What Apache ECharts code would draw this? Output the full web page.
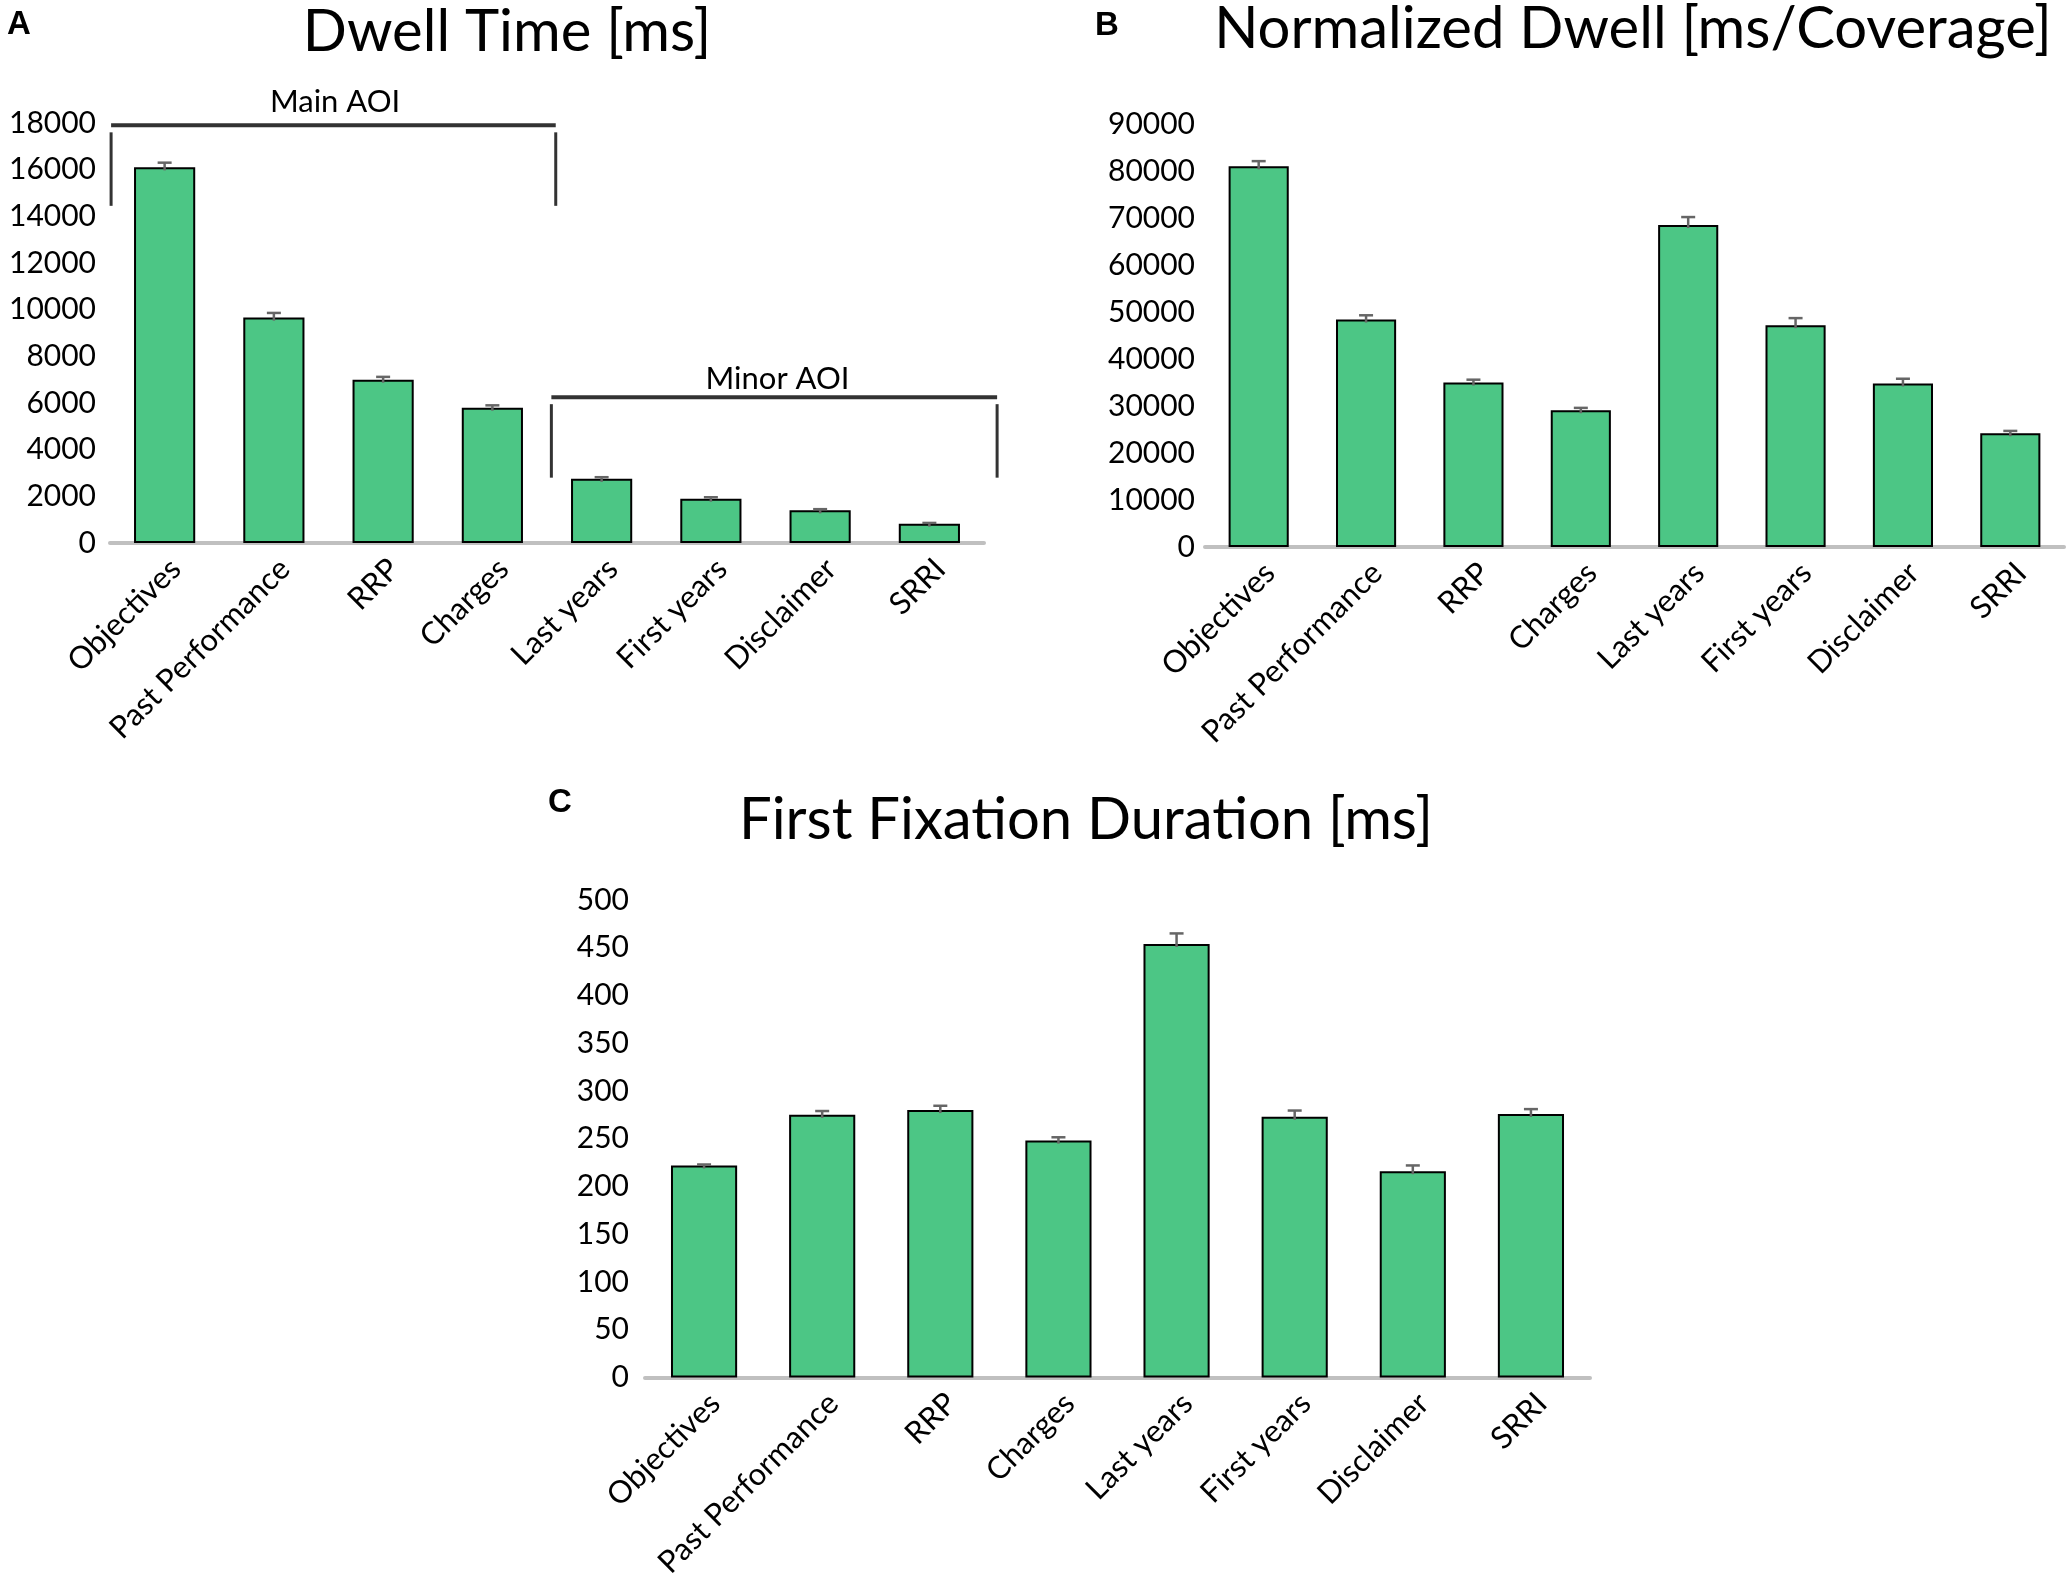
<!DOCTYPE html>
<html>
<head>
<meta charset="utf-8">
<script src="https://cdn.jsdelivr.net/npm/echarts@6/dist/echarts.min.js"></script>
<style>
html,body{margin:0;padding:0;background:#fff;}
#chart{width:2071px;height:1581px;}
</style>
</head>
<body>
<div id="chart"></div>
<script>
// ---- data ----
const categories = ['Objectives', 'Past Performance', 'RRP', 'Charges', 'Last years', 'First years', 'Disclaimer', 'SRRI'];
const dwellTime = [16100, 9660, 7000, 5800, 2750, 1900, 1400, 830];
const dwellTimeErr = [200, 200, 120, 100, 70, 60, 50, 30];
const normDwell = [81000, 48400, 35000, 29100, 68500, 47200, 34800, 24200];
const normDwellErr = [1100, 900, 600, 500, 1700, 1500, 1000, 500];
const firstFix = [222, 275, 280, 248, 454, 273, 216, 276];
const firstFixErr = [1, 4, 4.5, 3.5, 11, 6.5, 6, 5];
const titles = ['Dwell Time [ms]', 'Normalized Dwell [ms/Coverage]', 'First Fixation Duration [ms]'];
const panelLetters = ['A', 'B', 'C'];
const yMax = [18000, 90000, 500];
const yStep = [2000, 10000, 50];
// AOI brackets on panel A: [fromIndex, toIndex, lineValue, bottomValue], label [index, value]
const mainAOI = {label: 'Main AOI', from: -0.49, to: 3.58, y: 17900, yTop: 17600, yBottom: 14450, lx: 1.56, ly: 18900};
const minorAOI = {label: 'Minor AOI', from: 3.54, to: 7.62, y: 6250, yTop: 5950, yBottom: 2800, lx: 5.61, ly: 7030};

const FONT = 'Lato';
const GREEN = '#4cc685';

const chart = echarts.init(document.getElementById('chart'), null, {renderer: 'canvas'});

const grids = [
  {left: 110, top: 123, width: 874, height: 420},
  {left: 1205, top: 124, width: 859, height: 423},
  {left: 645, top: 900, width: 945, height: 480}
];
const labelMargins = [14, 10, 16];

function xAxis(i) {
  return {
    type: 'category', gridIndex: i, data: categories,
    axisLine: {show: true, lineStyle: {color: '#c0c0c0', width: 4}},
    axisTick: {show: false},
    axisLabel: {rotate: 45, margin: 10, interval: 0, verticalAlign: 'top', fontFamily: FONT, fontSize: 31, color: '#000'}
  };
}
function yAxis(i) {
  return {
    type: 'value', gridIndex: i, min: 0, max: yMax[i], interval: yStep[i],
    axisLine: {show: false}, axisTick: {show: false}, splitLine: {show: false},
    axisLabel: {margin: labelMargins[i], fontFamily: FONT, fontSize: 30, color: '#000',
      formatter: v => String(v)}
  };
}
function barSeries(i, vals) {
  return {
    type: 'bar', xAxisIndex: i, yAxisIndex: i, data: vals, barWidth: '56%',
    itemStyle: {color: GREEN, borderColor: '#000', borderWidth: 2},
    silent: true, animation: false
  };
}
function errSeries(i, vals, errs) {
  return {
    type: 'custom', xAxisIndex: i, yAxisIndex: i,
    data: vals.map((v, k) => [k, v, errs[k]]),
    encode: {x: 0, y: 1},
    z: 5, animation: false, silent: true,
    renderItem: function (params, api) {
      const x = api.value(0), v = api.value(1), e = api.value(2);
      const top = api.coord([x, v + e]);
      const base = api.coord([x, v]);
      const hw = 7;
      const st = {stroke: '#666', lineWidth: 2.5};
      return {type: 'group', children: [
        {type: 'line', shape: {x1: base[0], y1: base[1] + 3, x2: top[0], y2: top[1]}, style: st},
        {type: 'line', shape: {x1: top[0] - hw, y1: top[1], x2: top[0] + hw, y2: top[1]}, style: st}
      ]};
    }
  };
}

const option = {
  backgroundColor: '#fff',
  animation: false,
  grid: grids,
  xAxis: [xAxis(0), xAxis(1), xAxis(2)],
  yAxis: [yAxis(0), yAxis(1), yAxis(2)],
  series: [
    barSeries(0, dwellTime), errSeries(0, dwellTime, dwellTimeErr),
    barSeries(1, normDwell), errSeries(1, normDwell, normDwellErr),
    barSeries(2, firstFix), errSeries(2, firstFix, firstFixErr)
  ]
};
chart.setOption(option);

// ---- annotations: titles, letters, AOI brackets ----
const titlePos = [[507, 32], [1633, 29], [1086, 820]];
const letterPos = [[19, 25], [1107, 26], [560, 803]];
const graphics = [];
titles.forEach((t, i) => {
  graphics.push({type: 'text', x: titlePos[i][0], y: titlePos[i][1],
    style: {text: t, fontFamily: FONT, fontSize: 58, fill: '#000', textAlign: 'center', textVerticalAlign: 'middle'}});
  graphics.push({type: 'text', x: letterPos[i][0], y: letterPos[i][1],
    style: {text: panelLetters[i], fontFamily: 'Liberation Sans', fontWeight: 'bold', fontSize: 33, fill: '#000', textAlign: 'center', textVerticalAlign: 'middle'}});
});

function px(idx, val) {
  const p0 = chart.convertToPixel({gridIndex: 0}, [0, val]);
  const p1 = chart.convertToPixel({gridIndex: 0}, [1, val]);
  return [p0[0] + idx * (p1[0] - p0[0]), p0[1]];
}
[mainAOI, minorAOI].forEach(b => {
  const a = px(b.from, b.y), c = px(b.to, b.y);
  const aTop = px(b.from, b.yTop), aBot = px(b.from, b.yBottom);
  const cTop = px(b.to, b.yTop), cBot = px(b.to, b.yBottom);
  const lab = px(b.lx, b.ly);
  const st = {stroke: '#333', lineWidth: 4};
  graphics.push({type: 'line', shape: {x1: a[0], y1: a[1], x2: c[0], y2: c[1]}, style: st});
  graphics.push({type: 'line', shape: {x1: aTop[0], y1: aTop[1], x2: aBot[0], y2: aBot[1]}, style: {stroke: '#333', lineWidth: 3}});
  graphics.push({type: 'line', shape: {x1: cTop[0], y1: cTop[1], x2: cBot[0], y2: cBot[1]}, style: {stroke: '#333', lineWidth: 3}});
  graphics.push({type: 'text', x: lab[0], y: lab[1],
    style: {text: b.label, fontFamily: FONT, fontSize: 31, fill: '#000', textAlign: 'center', textVerticalAlign: 'middle'}});
});
chart.setOption({graphic: graphics});
</script>
</body>
</html>
